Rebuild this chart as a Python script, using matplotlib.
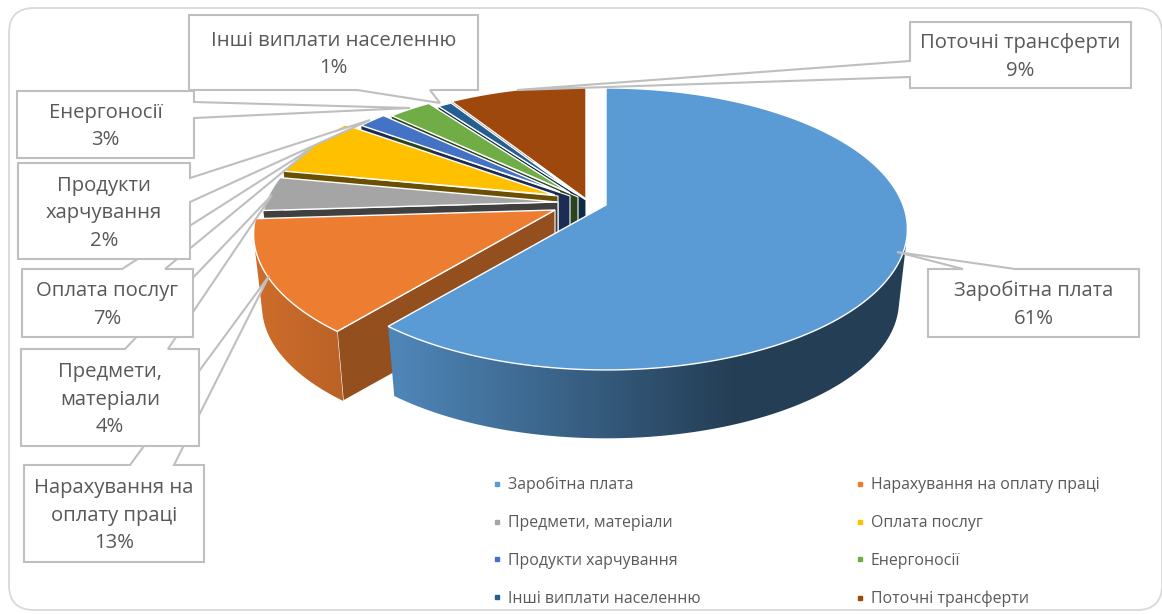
import numpy as np
import matplotlib
matplotlib.use("Agg")
import matplotlib.pyplot as plt
from matplotlib.colors import to_rgb
from matplotlib.lines import Line2D
from matplotlib.patches import FancyBboxPatch, Polygon

plt.rcParams['font.family'] = ['Open Sans', 'DejaVu Sans']

categories = ["Заробітна плата", "Нарахування на оплату праці", "Предмети, матеріали", "Оплата послуг",
              "Продукти харчування", "Енергоносії", "Інші виплати населенню", "Поточні трансферти"]
values = [61, 13, 4, 7, 2, 3, 1, 9]
# підписи з переносами, як на картинці
wrapped = ["Заробітна плата", "Нарахування на\nоплату праці", "Предмети,\nматеріали", "Оплата послуг",
           "Продукти\nхарчування", "Енергоносії", "Інші виплати населенню", "Поточні трансферти"]

colors = ["#5b9bd5", "#ed7d31", "#a5a5a5", "#ffc000", "#4472c4", "#70ad47", "#255e91", "#9e480e"]
wall_colors = ["#2a4a66", "#934f1e", "#404040", "#6a5000", "#1c2d55", "#2a4420", "#0f2a45", "#5e2b08"]

# вершини секторів (пікселі) і масштаб: у Excel тут перспектива + розсунуті сектори
apex_x = [606, 555, 557, 555, 560, 570, 575, 586]
apex_y = [205, 210, 202, 195, 192, 193, 193, 199]
scale = [1.0, 1.0, 0.98, 0.96, 0.91, 0.92, 0.89, 0.965]
# до якої точки тягнеться внутрішня стінка (біля центру вона видна правіше вершини)
wall_end = [(606, 205), (555, 210), (558, 202), (558, 196), (570, 196), (578, 197), (586, 200), None]

A, B, K = 136.9, 297.0, -0.17   # перспектива верхньої площини
DEPTH, BOTTOM = 73.0, 0.972     # товщина і зменшення нижньої площини

# градієнт зовнішньої стінки: (x0, яскравість), (x1, яскравість)
shade = {0: (398, 0.86, 735, 0.40), 1: (255, 0.87, 340, 0.79)}


def rim(theta, s):
    w = 1 - K * np.cos(theta)
    return s * B * np.sin(theta) / w, -s * A * np.cos(theta) / w


def hull(points):
    # опукла оболонка, бо смуга між верхом і низом сама себе перетинає
    pts = sorted(map(tuple, points))

    def half(seq):
        out = []
        for p in seq:
            while len(out) > 1 and ((out[-1][0] - out[-2][0]) * (p[1] - out[-2][1])
                                    - (out[-1][1] - out[-2][1]) * (p[0] - out[-2][0])) <= 0:
                out.pop()
            out.append(p)
        return out[:-1]

    return np.array(half(pts) + half(pts[::-1]))


def draw_slice(ax, i, t0, t1, z):
    cx, cy, s = apex_x[i], apex_y[i], scale[i]
    th = np.linspace(t0, t1, 200)
    dx, dy = rim(th, s)
    top = np.column_stack([cx + dx, cy + dy])
    bot = np.column_stack([cx + BOTTOM * dx, cy + DEPTH * s + BOTTOM * dy])

    # внутрішня стінка вздовж початкового краю
    if wall_end[i] is not None:
        wx, wy = wall_end[i]
        ax.add_patch(Polygon([(wx, wy), top[0], bot[0], (wx, wy + DEPTH * s)],
                             fc=wall_colors[i], ec="white", lw=0.8, zorder=z))
    # зовнішня стінка: для великого сектора беремо лише видиму частину дуги
    keep = th >= np.pi / 4
    outer = hull(np.vstack([top[keep], bot[keep]]))
    if i in shade:
        x0, b0, x1, b1 = shade[i]
        grad = np.linspace(b0, b1, 256)[None, :, None] * np.array(to_rgb(colors[i]))
        patch = Polygon(outer, fc="none", ec="none", zorder=z + 0.1)
        ax.add_patch(patch)
        im = ax.imshow(grad, extent=(x0, x1, 614, 0), aspect="auto", zorder=z + 0.1)
        # за межами градієнта - крайні кольори
        left = ax.imshow(grad[:, :1], extent=(0, x0, 614, 0), aspect="auto", zorder=z + 0.1)
        right = ax.imshow(grad[:, -1:], extent=(x1, 1162, 614, 0), aspect="auto", zorder=z + 0.1)
        for piece in (im, left, right):
            piece.set_clip_path(patch)
    else:
        ax.add_patch(Polygon(np.vstack([top, bot[::-1]]), fc=wall_colors[i], ec="none", zorder=z + 0.1))
    ax.add_patch(Polygon(np.vstack([[cx, cy], top]), fc=colors[i], ec="white", lw=1.0, zorder=z + 0.2))


fig = plt.figure(figsize=(11.62, 6.14), dpi=100)
ax = fig.add_axes([0, 0, 1, 1])

ax.add_patch(FancyBboxPatch((34, 33), 1103, 552, boxstyle="round,pad=25,rounding_size=25",
                            fc="white", ec="#d9d9d9", lw=1.3, zorder=1))

edges = np.cumsum([0] + values) / sum(values) * 2 * np.pi
for n, i in enumerate(reversed(range(len(values)))):
    draw_slice(ax, i, edges[i], edges[i + 1], 2 + n * 0.1)

ax.set_xlim(0, 1162)
ax.set_ylim(614, 0)
ax.axis("off")

# виноски: прямокутник (x0, y0, x1, y1), основа клина, вістря; порядок важливий - нижні перекриваються
callouts = [
    (1, (24, 465, 204, 562), [(130, 465), (269, 276), (174, 465)], "top"),
    (2, (21, 349, 199, 446), [(125, 349), (272, 195), (168, 349)], "top"),
    (3, (22, 269, 193, 337), [(122, 269), (312, 148), (165, 269)], "top"),
    (4, (18, 163, 190, 259), [(190, 178), (370, 120), (190, 202)], "right"),
    (5, (17, 91, 194, 158), [(194, 102), (410, 108), (194, 118)], "right"),
    (6, (189, 15, 478, 90), [(357, 90), (440, 103), (430, 90)], "bottom"),
    (7, (910, 22, 1131, 88), [(910, 61), (517, 90), (910, 77)], "left"),
    (0, (928, 269, 1139, 337), [(963, 269), (897, 252), (1015, 269)], "top"),
]
for k, (i, (x0, y0, x1, y1), wedge, side) in enumerate(callouts):
    if side == "top":
        pts = [(x0, y0)] + wedge + [(x1, y0), (x1, y1), (x0, y1)]
    elif side == "right":
        pts = [(x0, y0), (x1, y0)] + wedge + [(x1, y1), (x0, y1)]
    elif side == "bottom":
        pts = [(x0, y0), (x1, y0), (x1, y1)] + wedge[::-1] + [(x0, y1)]
    else:
        pts = [(x0, y0), (x1, y0), (x1, y1), (x0, y1)] + wedge[::-1]
    ax.add_patch(Polygon(pts, fc="white", ec="#bfbfbf", lw=1.5, zorder=4 + k * 0.1, joinstyle="miter"))
    ax.text((x0 + x1) / 2, (y0 + y1) / 2 + 2, f"{wrapped[i]}\n{values[i]}%", ha="center", va="center",
            fontsize=14.6, color="#595959", linespacing=1.5, zorder=4 + k * 0.1 + 0.05)

handles = [Line2D([], [], ls="none", marker="s", ms=3.0, color=c) for c in colors]
order = [0, 2, 4, 6, 1, 3, 5, 7]
ax.legend([handles[j] for j in order], [categories[j] for j in order], ncols=2, frameon=False,
          loc="upper left", bbox_to_anchor=(489 / 1162, 1 - 477 / 614), fontsize=11.4,
          labelcolor="#595959", handletextpad=0.2, handlelength=1.0, labelspacing=1.377, columnspacing=9.54,
          borderpad=0, borderaxespad=0).set_zorder(6)

fig.savefig("out.png", dpi=100)
